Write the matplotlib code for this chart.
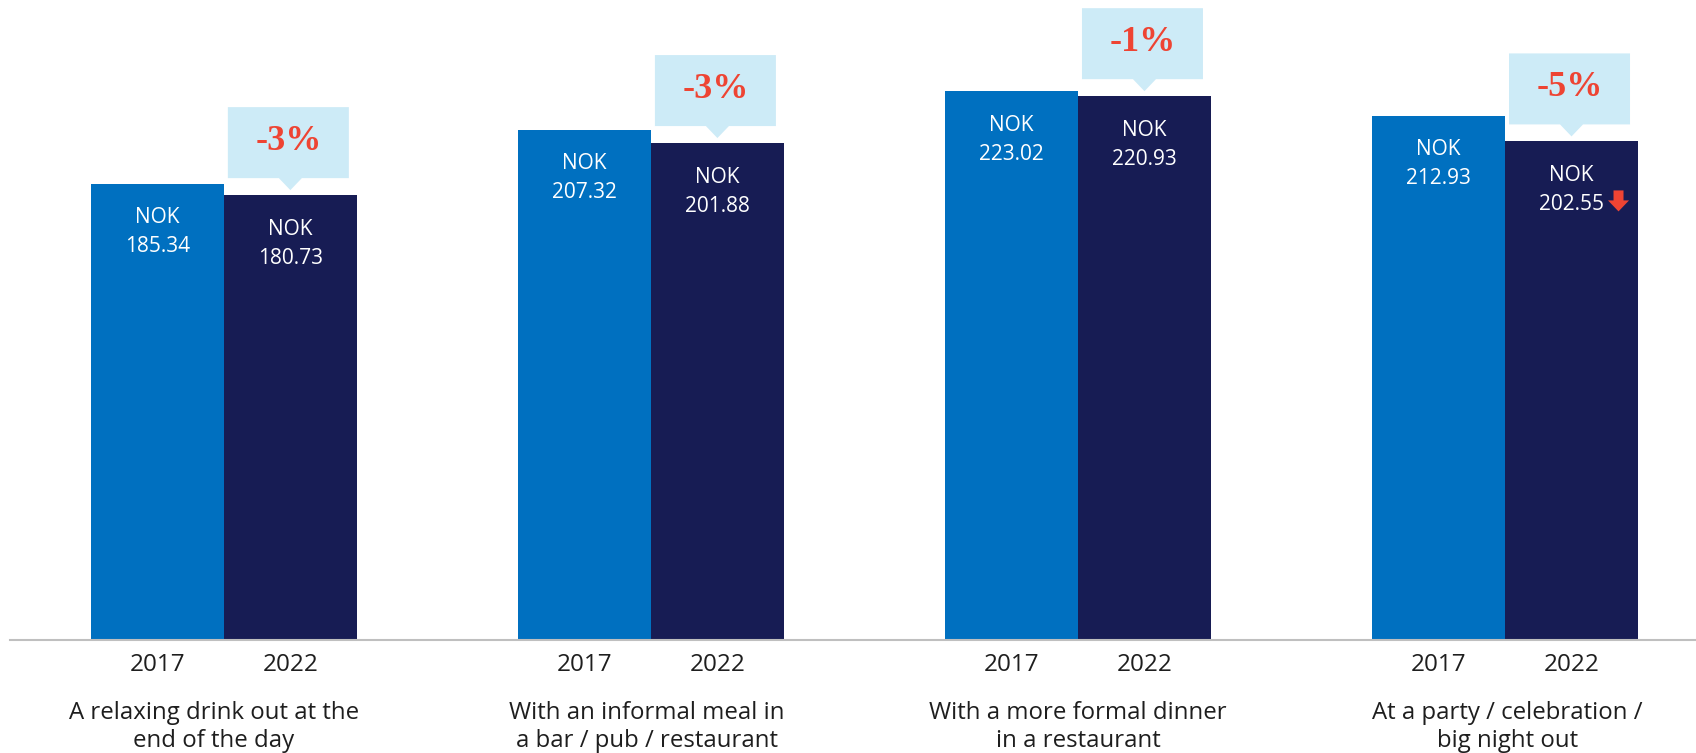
"""Average spend per occasion, 2017 vs 2022, grouped bar chart with change callouts."""

import matplotlib.pyplot as plt
import matplotlib.transforms as mtransforms
from matplotlib.patches import Polygon
import numpy as np

# Data
categories = [
    "A relaxing drink out at the\nend of the day",
    "With an informal meal in\na bar / pub / restaurant",
    "With a more formal dinner\nin a restaurant",
    "At a party / celebration /\nbig night out",
]
years = ["2017", "2022"]
spend_2017 = [185.34, 207.32, 223.02, 212.93]
spend_2022 = [180.73, 201.88, 220.93, 202.55]
change_labels = ["-3%", "-3%", "-1%", "-5%"]
falling_flag = [False, False, False, True]

# Styling
COLOR_2017 = "#0070C0"
COLOR_2022 = "#171C54"
CALLOUT_BG = "#CDEBF7"
CALLOUT_RED = "#EE4433"
AXIS_GREY = "#BFBFBF"
TEXT_DARK = "#1E1E1E"
BAR_WIDTH = 0.311
LABEL_SHIFT = [-10, -4, 0, 2]  # small horizontal nudges of group labels, px

DPI = 100
fig = plt.figure(figsize=(16.96, 7.53), dpi=DPI)
ax = fig.add_axes([10 / 1696, 113 / 753, 1 - 10 / 1696, 640 / 753])

x = np.arange(len(categories))
x17 = x - BAR_WIDTH / 2
x22 = x + BAR_WIDTH / 2

ax.bar(x17, spend_2017, width=BAR_WIDTH, color=COLOR_2017, linewidth=0)
ax.bar(x22, spend_2022, width=BAR_WIDTH, color=COLOR_2022, linewidth=0)

ax.set_xlim(-0.501, 3.447)
ax.set_ylim(0, 260)

for side in ["top", "right", "left"]:
    ax.spines[side].set_visible(False)
ax.spines["bottom"].set_color(AXIS_GREY)
ax.spines["bottom"].set_linewidth(1.5)
ax.set_yticks([])
ax.set_xticks([])

value_font = dict(family="Open Sans", fontsize=15, color="white",
                  ha="center", va="center")


def px_transform(xd, yd):
    """Transform whose units are pixels, anchored at a data point."""
    return (mtransforms.Affine2D().scale(1 / DPI) + fig.dpi_scale_trans
            + mtransforms.ScaledTranslation(xd, yd, ax.transData))


for i in range(len(categories)):
    # value labels inside the bars
    for xb, val in ((x17[i], spend_2017[i]), (x22[i], spend_2022[i])):
        ax.annotate("NOK", xy=(xb, val), xytext=(0, -34),
                    textcoords="offset pixels", **value_font)
        ax.annotate(f"{val:.2f}", xy=(xb, val), xytext=(0, -63),
                    textcoords="offset pixels", **value_font)

    # year labels under the bars
    for xb, yr in ((x17[i], years[0]), (x22[i], years[1])):
        ax.annotate(yr, xy=(xb, 0), xytext=(0, -25), textcoords="offset pixels",
                    family="Open Sans", fontsize=17.5, color=TEXT_DARK,
                    ha="center", va="center", annotation_clip=False)

    # category label
    ax.annotate(categories[i], xy=(x[i], 0), xytext=(LABEL_SHIFT[i], -61),
                textcoords="offset pixels", family="Open Sans", fontsize=17.3,
                color=TEXT_DARK, ha="center", va="top", linespacing=1.22,
                annotation_clip=False)

    # change callout above the 2022 bar
    top = spend_2022[i]
    trans = px_transform(x22[i], top)
    cx, hw = -2, 60.5
    shape = [
        (cx - hw, 88), (cx + hw, 88), (cx + hw, 17), (11.5, 17),
        (0, 5), (-11.5, 17), (cx - hw, 17),
    ]
    ax.add_patch(Polygon(shape, closed=True, transform=trans,
                         facecolor=CALLOUT_BG, edgecolor="none", clip_on=False))
    ax.annotate(change_labels[i], xy=(x22[i], top), xytext=(cx, 54),
                textcoords="offset pixels", family="Liberation Serif",
                fontweight="bold", fontsize=26, color=CALLOUT_RED,
                ha="center", va="center", annotation_clip=False)

    # red down arrow next to the value when flagged
    if falling_flag[i]:
        arrow = [
            (42, -49), (52, -49), (52, -59), (57.5, -59),
            (47, -70), (36.5, -59), (42, -59),
        ]
        ax.add_patch(Polygon(arrow, closed=True, transform=trans,
                             facecolor=CALLOUT_RED, edgecolor="none",
                             clip_on=False))

fig.savefig("out.png", dpi=DPI)
plt.close(fig)
